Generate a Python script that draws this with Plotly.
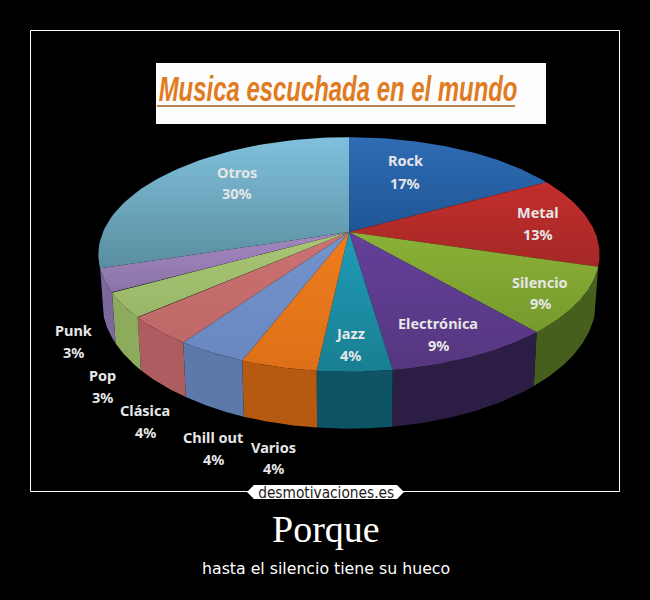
import numpy as np
import plotly.graph_objects as go

categories = ["Rock", "Metal", "Silencio", "Electrónica", "Jazz", "Varios",
              "Chill out", "Clásica", "Pop", "Punk", "Otros"]
percent = [17.0, 12.7, 9.0, 9.0, 4.0, 4.1, 3.8, 3.9, 3.4, 3.2, 29.9]

top_upper = ["#2f6cb4", "#c22e2c", "#8bb138", "#64409a", "#1f9cb8", "#ee7d1c",
             "#7393cc", "#cc7272", "#a9c676", "#a487c0", "#7fc0dc"]
top_lower = ["#1f5595", "#a52826", "#769a2c", "#56367f", "#197f92", "#dd7018",
             "#6a88c0", "#be6868", "#9ab668", "#8a74a6", "#5a8e9f"]
side_color = [None, None, "#465f1c", "#2c1d44", "#0f5367", "#b55a10",
              "#5c79aa", "#ad5d5f", "#8dab5c", "#7c689c", None]

label_xy = [(405, 160, 183), (538, 212, 234), (540, 282, 303), (438, 323, 345),
            (350, 333, 355), (273, 447, 468), (213, 437, 459), (145, 410, 432),
            (102, 375, 397), (73, 330, 352), (237, 172, 193)]

CX, CY, A, B, K, H, BASE_SHRINK = 349, 232, 246, 113, 0.1916, 46, 0.985


def project(theta, drop=0.0, shrink=1.0):
    x = np.sin(theta)
    y = -np.cos(theta)
    d = 1 - K * y
    return CX + shrink * A * x / d, CY + (B * y + drop) / d


fig = go.Figure()
edges = np.cumsum([0] + percent) / sum(percent) * 2 * np.pi
hidden = dict(mode="lines", line=dict(width=0), hoverinfo="skip", showlegend=False)

for i in range(len(percent)):
    if side_color[i] is None:
        continue
    t = np.linspace(edges[i], edges[i + 1], 60)
    x1, y1 = project(t)
    x2, y2 = project(t[::-1], drop=H, shrink=BASE_SHRINK)
    fig.add_trace(go.Scatter(x=np.r_[x1, x2], y=np.r_[y1, y2], fill="toself",
                             fillcolor=side_color[i], **hidden))

for i in range(len(percent)):
    t = np.linspace(edges[i], edges[i + 1], 60)
    x1, y1 = project(t)
    fig.add_trace(go.Scatter(
        x=np.r_[CX, x1, CX], y=np.r_[CY, y1, CY], fill="toself",
        fillgradient=dict(type="vertical",
                          colorscale=[[0, top_lower[i]], [1, top_upper[i]]]),
        **hidden))

annotations = []
for name, pct, (lx, ly1, ly2) in zip(categories, percent, label_xy):
    for text, ly in ((name, ly1), (f"{round(pct)}%", ly2)):
        annotations.append(dict(x=lx, y=ly, text=text, showarrow=False,
                                xanchor="center", yanchor="middle",
                                font=dict(family="Noto Sans", size=14.5, color="#e6e6e6",
                                          weight="bold")))

annotations += [
    dict(x=338, y=88, text="Musica escuchada en el mundo", showarrow=False,
         font=dict(family="Liberation Sans", size=36, color="#e07b22",
                   weight="bold", style="italic")),
    dict(x=326, y=492, text="desmotivaciones.es", showarrow=False,
         font=dict(family="DejaVu Sans", size=16, color="#1a1a1a")),
    dict(x=326, y=529, text="Porque", showarrow=False,
         font=dict(family="Liberation Serif", size=38, color="#ffffff")),
    dict(x=326, y=568, text="hasta el silencio tiene su hueco", showarrow=False,
         font=dict(family="DejaVu Sans", size=15.75, color="#ffffff")),
]

shapes = [
    dict(type="rect", x0=30.5, x1=619.5, y0=30.5, y1=491.5, line=dict(color="#ffffff", width=1),
         layer="below"),
    dict(type="rect", x0=156, x1=546, y0=63, y1=124, fillcolor="#fdfdfd", line=dict(width=0)),
    dict(type="line", x0=157, x1=515, y0=106, y1=106, line=dict(color="#b98555", width=2)),
    dict(type="path", path="M 247,492 L 254,485 L 397,485 L 404,492 L 397,499 L 254,499 Z",
         fillcolor="#ffffff", line=dict(width=0)),
]

fig.update_layout(
    width=650, height=600, margin=dict(l=0, r=0, t=0, b=0),
    paper_bgcolor="#000000", plot_bgcolor="#000000", showlegend=False,
    xaxis=dict(range=[0, 650], visible=False, fixedrange=True),
    yaxis=dict(range=[600, 0], visible=False, fixedrange=True),
    annotations=annotations, shapes=shapes,
)
script = """
document.body.style.margin='0';document.body.style.background='#000';
setTimeout(function(){
  document.querySelectorAll('.annotation-text').forEach(function(el){
    var s = el.textContent, target = 0;
    if (s.indexOf('Musica') === 0) target = 359;
    if (s.indexOf('desmot') === 0) target = 136;
    if (target) {
      var k = target / el.getComputedTextLength();
      var cx = parseFloat(el.getAttribute('x'));
      el.setAttribute('transform', 'translate(' + cx + ',0) scale(' + k + ',1) translate(' + (-cx) + ',0)');
    }
  });
}, 50);
"""
fig.write_html("out.html", config=dict(displayModeBar=False), post_script=script)
